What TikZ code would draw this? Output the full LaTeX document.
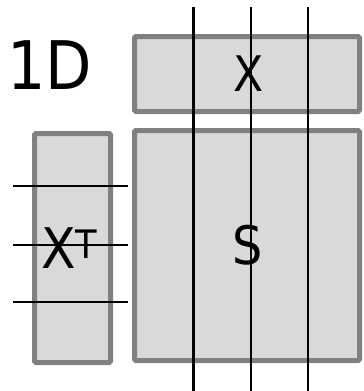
\documentclass[tikz,border=0pt]{standalone}
\usepackage{fontspec}
\setmainfont{DejaVu Sans Condensed}
\begin{document}
\begin{tikzpicture}[x=1pt,y=-1pt,
  block/.style={line width=5pt, fill=black!15, rounded corners=1.5pt},
  rule/.style={line width=2.5pt, black},
  lbl/.style={inner sep=0pt, anchor=base}]
  \useasboundingbox (0,0) rectangle (364,391);
  \colorlet{edge}{black!50}
  % matrix blocks
  \draw[block, draw=edge] (134.5,36.5) rectangle (359.5,111.5);
  \draw[block, draw=edge] (134.5,130.5) rectangle (359.5,360.5);
  \draw[block, draw=edge] (34.5,133.5) rectangle (110.5,362.5);
  % labels
  \node[lbl, font=\fontsize{67}{67}\selectfont] (dim) at (50,89) {1D};
  \node[lbl, font=\fontsize{49}{49}\selectfont] (xl) at (249,91) {X};
  \node[lbl, font=\fontsize{53}{53}\selectfont] (sl) at (248,264) {S};
  \node[lbl, font=\fontsize{56}{56}\selectfont, anchor=base west] (tl) at (41,268) {X\textsuperscript{T}};
  % column cuts
  \foreach \x/\n in {193.5/a,251/b,308/c}{
    \coordinate (v\n t) at (\x,7);
    \coordinate (v\n b) at (\x,391);
    \draw[rule] (v\n t) -- (v\n b);
  }
  % row cuts
  \foreach \y/\n in {186/a,245/b,302/c}{
    \coordinate (h\n l) at (13,\y);
    \coordinate (h\n r) at (128,\y);
    \draw[rule] (h\n l) -- (h\n r);
  }
\end{tikzpicture}
\end{document}
